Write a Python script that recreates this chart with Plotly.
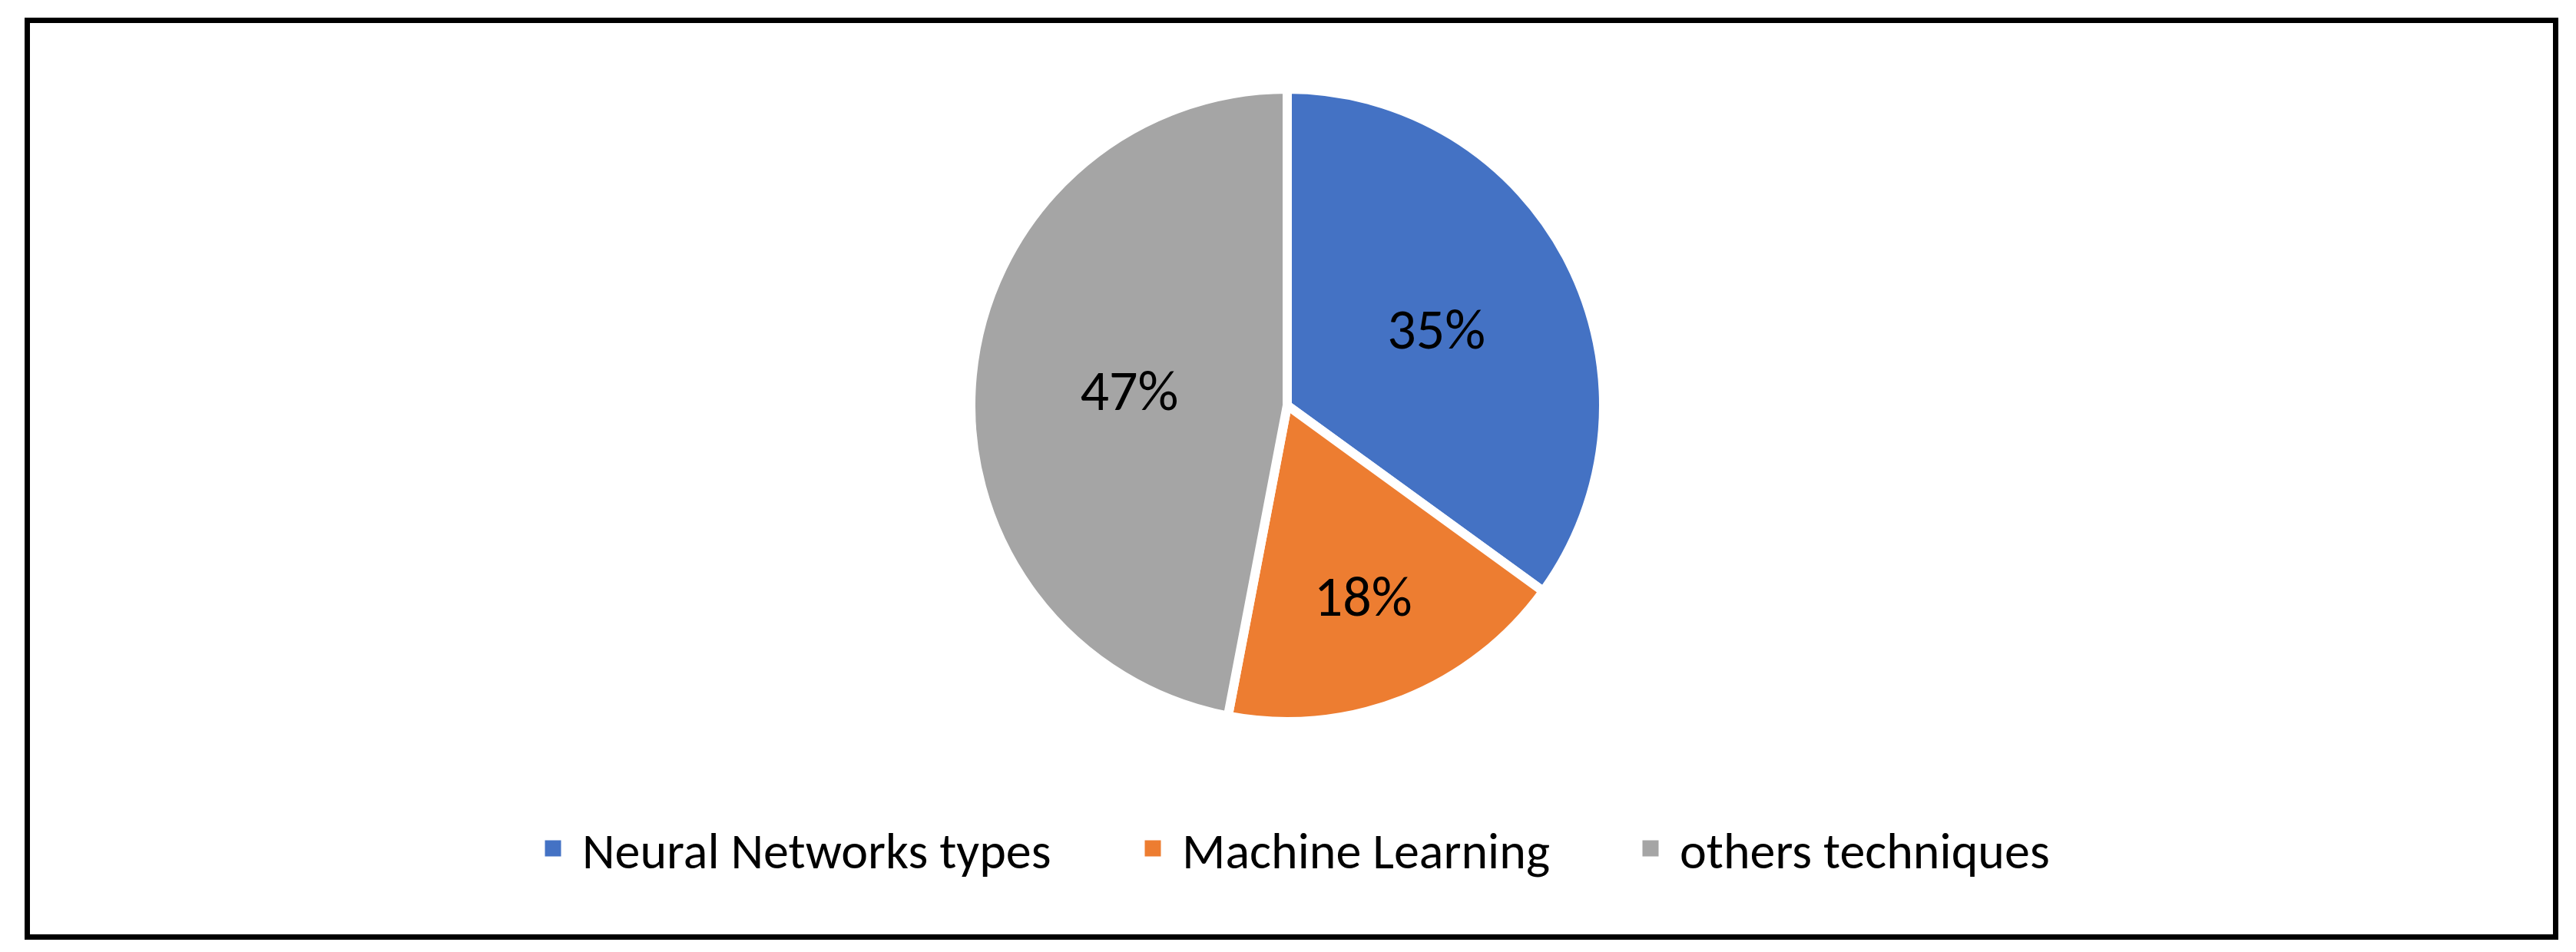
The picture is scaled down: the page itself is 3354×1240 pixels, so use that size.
import plotly.graph_objects as go

categories = ["Neural Networks types", "Machine Learning", "others techniques"]
values = [35, 18, 47]
colors = ["#4472C4", "#ED7D31", "#A5A5A5"]

W, H = 3354, 1240
FONT = "Carlito, Lato, 'Liberation Sans', sans-serif"

cx, cy, r = 1668, 520, 412
legend_text_x = [752, 1533, 2181]
legend_y = 1097

fig = go.Figure()
fig.add_trace(go.Pie(
    labels=categories,
    values=values,
    sort=False,
    direction="clockwise",
    rotation=0,
    marker=dict(colors=colors, line=dict(color="white", width=12)),
    textinfo="percent",
    texttemplate="%{percent:.0%}",
    textposition="inside",
    insidetextorientation="horizontal",
    textfont=dict(family=FONT, size=74, color="black"),
    domain=dict(x=[(cx - 600) / W, (cx + 600) / W], y=[1 - (cy + r) / H, 1 - (cy - r) / H]),
    hoverinfo="label+percent",
    showlegend=False,
))

legend_names = ["legend", "legend2", "legend3"]
for name, col, ln in zip(categories, colors, legend_names):
    fig.add_trace(go.Scatter(
        x=[None], y=[None], mode="markers", name=name,
        marker=dict(symbol="square", size=16, color=col, line=dict(color=col, width=5)),
        legend=ln, showlegend=True, hoverinfo="skip",
    ))

legend_style = dict(
    orientation="h", xanchor="left", yanchor="middle",
    font=dict(family=FONT, size=66, color="black"),
    bgcolor="rgba(0,0,0,0)", itemsizing="trace", itemwidth=66,
)
layout_legends = {}
for ln, tx in zip(legend_names, legend_text_x):
    layout_legends[ln] = dict(legend_style, x=(tx - 78) / W, y=1 - legend_y / H)

fig.update_layout(
    width=W, height=H,
    margin=dict(l=0, r=0, t=0, b=0),
    paper_bgcolor="white",
    plot_bgcolor="white",
    font=dict(family=FONT, color="black"),
    xaxis=dict(visible=False, domain=[0, 0.01]),
    yaxis=dict(visible=False, domain=[0, 0.01]),
    shapes=[dict(
        type="rect", xref="paper", yref="paper",
        x0=27.5 / W, x1=3319.5 / W, y0=1 - 1212.5 / H, y1=1 - 18.5 / H,
        line=dict(color="black", width=7), fillcolor="rgba(0,0,0,0)",
    )],
    **layout_legends,
)

fig.write_html("out.html")
